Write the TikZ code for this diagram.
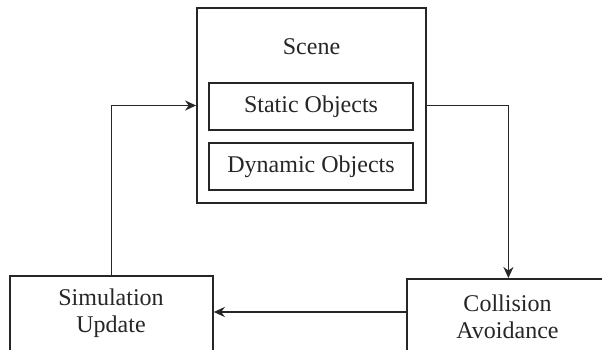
\documentclass[tikz,border=0pt]{standalone}
\usepackage{fontspec}
\setmainfont{Liberation Serif}
\usetikzlibrary{arrows.meta}
\begin{document}
\begin{tikzpicture}[x=1pt,y=-1pt,
  box/.style={draw=black!85, line width=1.8pt, rectangle, inner sep=0pt},
  lbl/.style={font=\fontsize{24}{27}\selectfont, text=black!85, align=center, inner sep=0pt},
  arr/.style={draw=black!85, line width=1.8pt, -{Stealth[length=11pt,width=10pt]}}]
\clip (0,0) rectangle (602,349);
\fill[white] (0,0) rectangle (602,349);
% scene
\node[box, minimum width=229pt, minimum height=195pt] (scene) at (311.5,105.5) {};
\node[lbl] (scenelbl) at (311.5,47) {Scene};
\node[box, lbl, minimum width=204pt, minimum height=47pt] (static) at (311,106.5) {Static Objects};
\node[box, lbl, minimum width=204pt, minimum height=47pt] (dynamic) at (311,166.5) {Dynamic Objects};
% lower boxes
\node[box, minimum width=203pt, minimum height=90pt, anchor=north west] (sim) at (9,275) {};
\node[lbl] (simlbl) at (111,313.5) {Simulation\\Update};
\node[box, minimum width=203pt, minimum height=90pt, anchor=north west] (coll) at (406,278) {};
\node[lbl] (colllbl) at (507.5,316.5) {Collision\\Avoidance};
% connectors
\draw[arr] (sim.north) |- (scene.west);
\draw[arr] (scene.east) -| (coll.north);
\coordinate (cstart) at (coll.west |- 0,312);
\coordinate (cend) at (sim.east |- 0,312);
\draw[arr] (cstart) -- (cend);
\end{tikzpicture}
\end{document}
